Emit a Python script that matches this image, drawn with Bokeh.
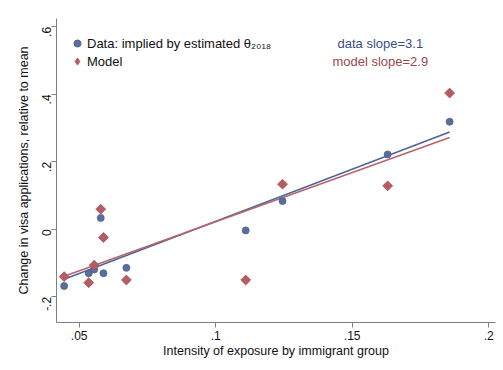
import math
import numpy as np
from bokeh.plotting import figure
from bokeh.models import Range1d, FixedTicker, Label, Legend, LegendItem
from bokeh.embed import file_html
from bokeh.resources import INLINE

# Exposure intensity per immigrant group (same groups for both series)
exposure = [0.0445, 0.0535, 0.0555, 0.0579, 0.0589, 0.0673, 0.111, 0.1245, 0.163, 0.1857]
# Change in visa applications relative to mean
data_change = [-0.168, -0.130, -0.119, 0.034, -0.130, -0.114, -0.003, 0.084, 0.222, 0.319]
model_change = [-0.140, -0.158, -0.106, 0.060, -0.024, -0.150, -0.150, 0.134, 0.129, 0.404]

x_tick_vals = [0.05, 0.1, 0.15, 0.2]
x_tick_labels = [".05", ".1", ".15", ".2"]
y_tick_vals = [-0.2, 0.0, 0.2, 0.4, 0.6]
y_tick_labels = ["-.2", "0", ".2", ".4", ".6"]

FONT = "Liberation Sans"
BLUE = "#5a6e9b"
BLUE_LINE = "#4c679a"
RED = "#b45c63"
RED_LINE = "#b8646b"

p = figure(width=503, height=370, output_backend="svg", toolbar_location=None,
           x_range=Range1d(0.0417, 0.2025), y_range=Range1d(-0.276, 0.625))
p.min_border_left = 56
p.min_border_right = 8
p.min_border_top = 18
p.min_border_bottom = 48
p.outline_line_color = None
p.background_fill_color = "white"
p.border_fill_color = "white"
p.xgrid.visible = False
p.ygrid.visible = False

x = np.array(exposure)
yd = np.array(data_change)
ym = np.array(model_change)

# least-squares fits for each series
bd, ad = np.polyfit(x, yd, 1)
bm, am = np.polyfit(x, ym, 1)
xl = np.array([x.min(), x.max()])

p.line(xl, ad + bd * xl, line_color=BLUE_LINE, line_width=1.6)
p.line(xl, am + bm * xl, line_color=RED_LINE, line_width=1.6)

r_data = p.scatter(x, yd, marker="circle", size=7, fill_color=BLUE,
                   line_color="#4d6190", line_width=0.8)
# diamonds drawn as squares turned by 45 degrees
p.scatter(x, ym, marker="square", size=7, angle=math.pi / 4,
          fill_color=RED, line_color="#a9525a", line_width=0.8)
# legend key for the model series (legend keys ignore marker angles)
r_model_key = p.scatter(x, ym, marker="diamond", size=9, fill_color=RED,
                        line_color="#a9525a", line_width=0.8, visible=False)

legend = Legend(items=[
    LegendItem(label="Data: implied by estimated θ₂₀₁₈", renderers=[r_data]),
    LegendItem(label="Model", renderers=[r_model_key]),
], location=(12, 252))
legend.border_line_color = None
legend.background_fill_alpha = 0
legend.margin = 0
legend.padding = 0
legend.spacing = 0
legend.glyph_width = 18
legend.glyph_height = 18
legend.label_height = 18
legend.label_standoff = 1
legend.label_text_font = FONT
legend.label_text_font_size = "13px"
legend.label_text_color = "#111111"
p.add_layout(legend)

p.add_layout(Label(x=0.1603, y=0.552, text=f"data slope={bd:.1f}", text_align="center",
                   text_baseline="middle", text_font=FONT, text_font_size="13px",
                   text_color="#3b4f82"))
p.add_layout(Label(x=0.1603, y=0.4987, text=f"model slope={bm:.1f}", text_align="center",
                   text_baseline="middle", text_font=FONT, text_font_size="13px",
                   text_color="#a2464e"))

for ax in (p.xaxis[0], p.yaxis[0]):
    ax.axis_line_color = "#808080"
    ax.major_tick_line_color = "#808080"
    ax.major_tick_out = 5
    ax.major_tick_in = 0
    ax.minor_tick_line_color = None
    ax.major_label_text_font = FONT
    ax.major_label_text_font_size = "12px"
    ax.major_label_text_color = "#111111"
    ax.axis_label_text_font = FONT
    ax.axis_label_text_font_size = "12.5px"
    ax.axis_label_text_font_style = "normal"
    ax.axis_label_text_color = "#111111"

p.xaxis.ticker = FixedTicker(ticks=x_tick_vals)
p.xaxis.major_label_overrides = dict(zip(x_tick_vals, x_tick_labels))
p.yaxis.ticker = FixedTicker(ticks=y_tick_vals)
p.yaxis.major_label_overrides = dict(zip(y_tick_vals, y_tick_labels))
p.yaxis.major_label_orientation = math.pi / 2

p.xaxis.axis_label = "Intensity of exposure by immigrant group"
p.yaxis.axis_label = "Change in visa applications, relative to mean"
p.xaxis.major_label_standoff = 3
p.xaxis.axis_label_standoff = 1
p.yaxis.major_label_standoff = 5
p.yaxis.axis_label_standoff = 4

open("out.html", "w").write(file_html(p, INLINE))
